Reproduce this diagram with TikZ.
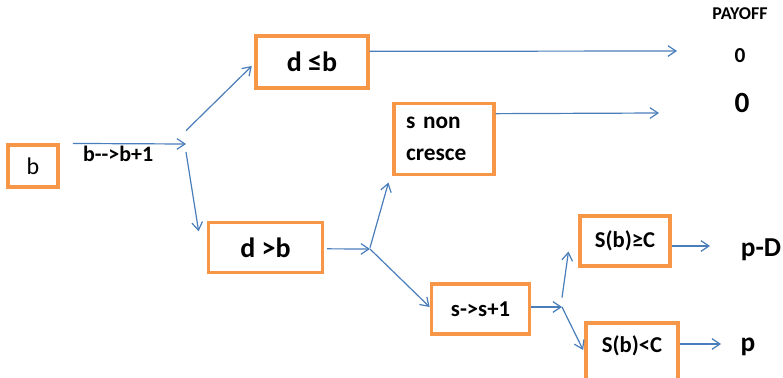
\documentclass[tikz,border=0pt]{standalone}
\usepackage{fontspec}
\setmainfont{Carlito}
\usepackage{xcolor}
\usepackage{tikz}
\usetikzlibrary{positioning, arrows.meta}
\definecolor{arancione}{HTML}{F79646}
\definecolor{azzurro}{HTML}{4A7EBB}
\tikzset{
    box_stato/.style={rectangle, draw=arancione, line width=2.3pt, fill=white, align=center, inner sep=0pt, font=\fontsize{17}{20}\selectfont\bfseries},
    freccia/.style={draw=azzurro, line width=0.9pt, -{Straight Barb[length=6pt, width=8pt]}}
}

\begin{document}
\begin{tikzpicture}[
        x=0.75pt, y=-0.75pt,
        % Testi a destra (payoff)
        testo_payoff/.style={inner sep=0pt, font=\fontsize{20.5}{23}\selectfont\bfseries},
        testo_mossa/.style={inner sep=1pt, font=\fontsize{16.5}{18}\selectfont\bfseries}
    ]
    \useasboundingbox (0,0) rectangle (783,378);
    \clip (0,0) rectangle (783,378);

    % 1. Nodo iniziale e primo bivio
    \node[box_stato, minimum width=37.5pt, minimum height=31.5pt, font=\fontsize{18}{20}\selectfont] (b) at (33,166) {b};
    \coordinate (bivio1) at (186,144);

    % 2. Stati dopo il primo bivio
    \node[box_stato, minimum width=84pt, minimum height=39pt, font=\fontsize{21}{24}\selectfont\bfseries] (dle) at (312,62) {d ≤b};
    \node[box_stato, minimum width=86pt, minimum height=38pt, font=\fontsize{21}{24}\selectfont\bfseries] (dgt) at (265.5,247.5) {d >b};
    \coordinate (bivio2) at (370,249);

    % 3. Stati dopo d > b
    \node[box_stato, minimum width=75pt, minimum height=53pt, text width=57pt, align=left, font=\fontsize{17.5}{23.5}\selectfont\bfseries] (snc) at (444,139) {s non\\cresce};
    \node[box_stato, minimum width=74pt, minimum height=37.5pt] (sss) at (480.5,309) {s-{}>s+1};
    \coordinate (bivio3) at (562,307);

    % 4. Confronto finale con C
    \node[box_stato, minimum width=67.5pt, minimum height=37.5pt] (sge) at (625,241) {S(b)≥C};
    \node[box_stato, minimum width=69pt, minimum height=43.5pt, text height=11pt, text depth=11pt] (slt) at (632,352) {S(b)<C};

    % --- PAYOFF ---
    \node[testo_payoff, font=\fontsize{13.5}{15}\selectfont\bfseries] (payoff) at (740,14) {PAYOFF};
    \node[testo_payoff, font=\fontsize{16}{18}\selectfont\bfseries] (zero_a) at (740,56) {0};
    \node[testo_payoff, font=\fontsize{22}{24}\selectfont\bfseries] (zero_b) at (742,103) {0};
    \node[testo_payoff] (pd) at (761,250) {p-D};
    \node[testo_payoff] (p) at (748,347) {p};

    \coordinate (fine1) at (677,51);
    \coordinate (fine2) at (659,113);
    \coordinate (fine3) at (710,246);
    \coordinate (fine4) at (721,344);

    % --- CONNESSIONI ---
    \draw[freccia] ([xshift=10pt]b.north east) -- node[testo_mossa, pos=0.4, below=0pt] (mossa) {b-{}-{}>b+1} (bivio1);
    \draw[freccia] ([yshift=10pt]bivio1) -- ([shift={(-2pt,-3pt)}]dle.west);
    \draw[freccia] ([yshift=-6pt]bivio1) -- ([shift={(-6pt,-8pt)}]dgt.north west);

    \draw[freccia] ([yshift=8pt]dle.east) -- (fine1);
    \draw[freccia] ([yshift=19pt]snc.east) -- (fine2);

    \draw[freccia] ([shift={(2pt,-1pt)}]dgt.east) -- (bivio2);
    \draw[freccia] ([yshift=1pt]bivio2) -- ([shift={(-3pt,-5pt)}]snc.south west);
    \draw[freccia] (bivio2) -- ([yshift=1.5pt]sss.west);

    \draw[freccia] ([yshift=1.5pt]sss.east) -- (bivio3);
    \draw[freccia] ([yshift=7pt]bivio3) -- ([shift={(-7.5pt,12pt)}]sge.south west);
    \draw[freccia] (bivio3) -- ([shift={(-1pt,1.5pt)}]slt.west);

    \draw[freccia] ([yshift=-3.75pt]sge.east) -- (fine3);
    \draw[freccia] ([yshift=6pt]slt.east) -- (fine4);

\end{tikzpicture}
\end{document}
